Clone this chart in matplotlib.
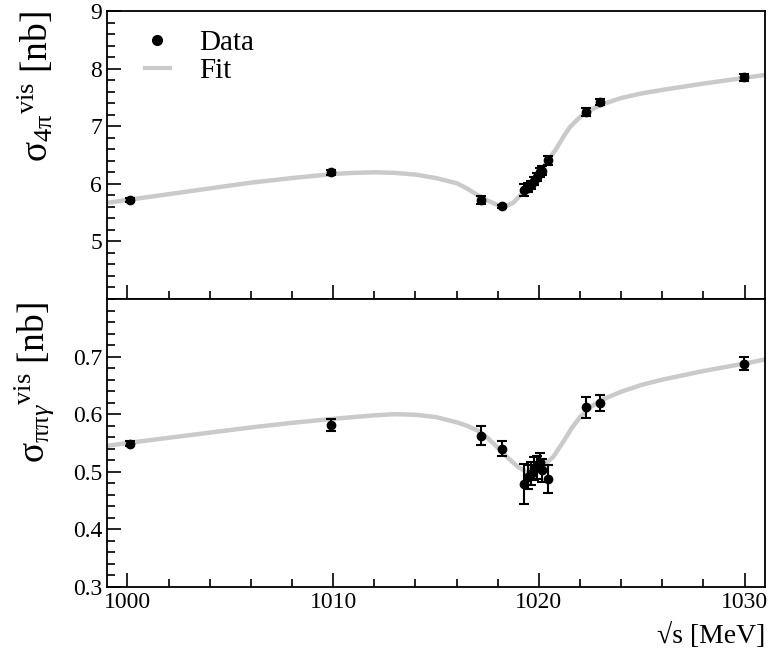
import matplotlib
matplotlib.use('Agg')
import matplotlib.pyplot as plt
from matplotlib.lines import Line2D
from matplotlib.ticker import MultipleLocator

plt.rcParams['font.family'] = ['Liberation Serif', 'DejaVu Serif']
plt.rcParams['mathtext.fontset'] = 'custom'
plt.rcParams['mathtext.rm'] = 'Liberation Serif'
plt.rcParams['mathtext.it'] = 'Liberation Serif:italic'

# data points (shared energies)
energy = [1000.1, 1009.9, 1017.2, 1018.2, 1019.3, 1019.45, 1019.6, 1019.75,
          1019.9, 1020.05, 1020.15, 1020.45, 1022.3, 1022.95, 1029.95]
sig_4pi = [5.72, 6.20, 5.72, 5.61, 5.89, 5.93, 5.98, 6.05,
           6.12, 6.20, 6.23, 6.41, 7.25, 7.42, 7.85]
err_4pi = [0.03, 0.04, 0.07, 0.03, 0.11, 0.08, 0.07, 0.07,
           0.07, 0.08, 0.08, 0.08, 0.07, 0.06, 0.06]
sig_ppg = [0.549, 0.581, 0.563, 0.540, 0.479, 0.491, 0.497, 0.506,
           0.508, 0.517, 0.503, 0.487, 0.612, 0.619, 0.688]
err_ppg = [0.004, 0.011, 0.017, 0.013, 0.035, 0.020, 0.020, 0.020,
           0.020, 0.015, 0.020, 0.024, 0.018, 0.014, 0.012]

# fit curves
fit_x_4pi = [999, 1000, 1002, 1004, 1006, 1008, 1010, 1011, 1012, 1013, 1014,
             1015, 1016, 1016.5, 1017, 1017.5, 1018, 1018.3, 1018.75, 1019.2,
             1019.6, 1020, 1020.5, 1020.9, 1021.2, 1021.5, 1021.8, 1022, 1022.3,
             1023, 1024, 1025, 1026, 1028, 1030, 1031]
fit_y_4pi = [5.67, 5.72, 5.82, 5.92, 6.02, 6.10, 6.17, 6.19, 6.20, 6.19, 6.16,
             6.10, 6.01, 5.92, 5.81, 5.71, 5.63, 5.60, 5.67, 5.84,
             6.00, 6.20, 6.43, 6.64, 6.82, 6.98, 7.09, 7.16, 7.24,
             7.37, 7.49, 7.57, 7.63, 7.74, 7.84, 7.89]

fit_x_ppg = [999, 1000, 1002, 1004, 1006, 1008, 1010, 1011, 1012, 1013, 1014,
             1015, 1016, 1016.5, 1017, 1017.5, 1018, 1018.5, 1019, 1019.4,
             1019.8, 1020.2, 1020.7, 1021.2, 1021.6, 1022, 1022.5, 1023,
             1024, 1025, 1026, 1028, 1030, 1031]
fit_y_ppg = [0.545, 0.550, 0.559, 0.568, 0.577, 0.585, 0.592, 0.595, 0.598, 0.600, 0.599,
             0.595, 0.586, 0.580, 0.572, 0.559, 0.542, 0.524, 0.508, 0.500,
             0.502, 0.510, 0.526, 0.553, 0.576, 0.595, 0.612, 0.624,
             0.639, 0.651, 0.660, 0.675, 0.688, 0.695]

fit_col = '#cacaca'

fig = plt.figure(figsize=(7.69, 6.52), dpi=100)
ax1 = fig.add_axes([0.139, 0.5414, 0.856, 0.4417])
ax2 = fig.add_axes([0.139, 0.0997, 0.856, 0.4417])

for ax, fx, fy, y, e in [(ax1, fit_x_4pi, fit_y_4pi, sig_4pi, err_4pi),
                         (ax2, fit_x_ppg, fit_y_ppg, sig_ppg, err_ppg)]:
    ax.plot(fx, fy, color=fit_col, lw=3.2, zorder=1)
    ax.errorbar(energy, y, yerr=e, fmt='o', color='black', ms=6,
                elinewidth=1.5, capsize=3.5, capthick=1.5, zorder=2)
    ax.set_xlim(999, 1031)
    ax.xaxis.set_major_locator(MultipleLocator(10))
    ax.xaxis.set_minor_locator(MultipleLocator(2))
    ax.tick_params(which='both', direction='in', top=False, right=False,
                   labelsize=17, width=1.2)
    ax.tick_params(which='major', length=10)
    ax.tick_params(which='minor', length=6)
    for s in ax.spines.values():
        s.set_linewidth(1.3)

ax1.set_ylim(4, 9)
ax1.set_yticks([5, 6, 7, 8, 9])
ax1.yaxis.set_minor_locator(MultipleLocator(0.2))
ax1.tick_params(labelbottom=False)

ax2.set_ylim(0.3, 0.8)
ax2.set_yticks([0.3, 0.4, 0.5, 0.6, 0.7])
ax2.yaxis.set_minor_locator(MultipleLocator(0.02))

for ax in (ax1, ax2):
    for lab in ax.get_xticklabels() + ax.get_yticklabels():
        lab.set_fontfamily('Liberation Serif')

leg_handles = [Line2D([], [], ls='none', marker='o', color='black', ms=7),
               Line2D([], [], color=fit_col, lw=3)]
ax1.legend(leg_handles, ['Data', 'Fit'], loc='upper left', bbox_to_anchor=(0.058, 0.935),
           frameon=False, fontsize=21, handlelength=0.85, handletextpad=1.0,
           labelspacing=0.05, borderpad=0, borderaxespad=0)

fig.text(0.046, 0.983, r'$\mathrm{\sigma}_{4\mathrm{\pi}}{}^{\mathrm{vis}}$ [nb]', rotation=90,
         ha='center', va='top', fontsize=27)
fig.text(0.044, 0.537, r'$\mathrm{\sigma}_{\mathrm{\pi\pi}\gamma}{}^{\mathrm{vis}}$ [nb]', rotation=90,
         ha='center', va='top', fontsize=27)
fig.text(0.995, 0.005, '\u221as [MeV]', ha='right', va='bottom', fontsize=20)

fig.savefig('out.png', dpi=100)
